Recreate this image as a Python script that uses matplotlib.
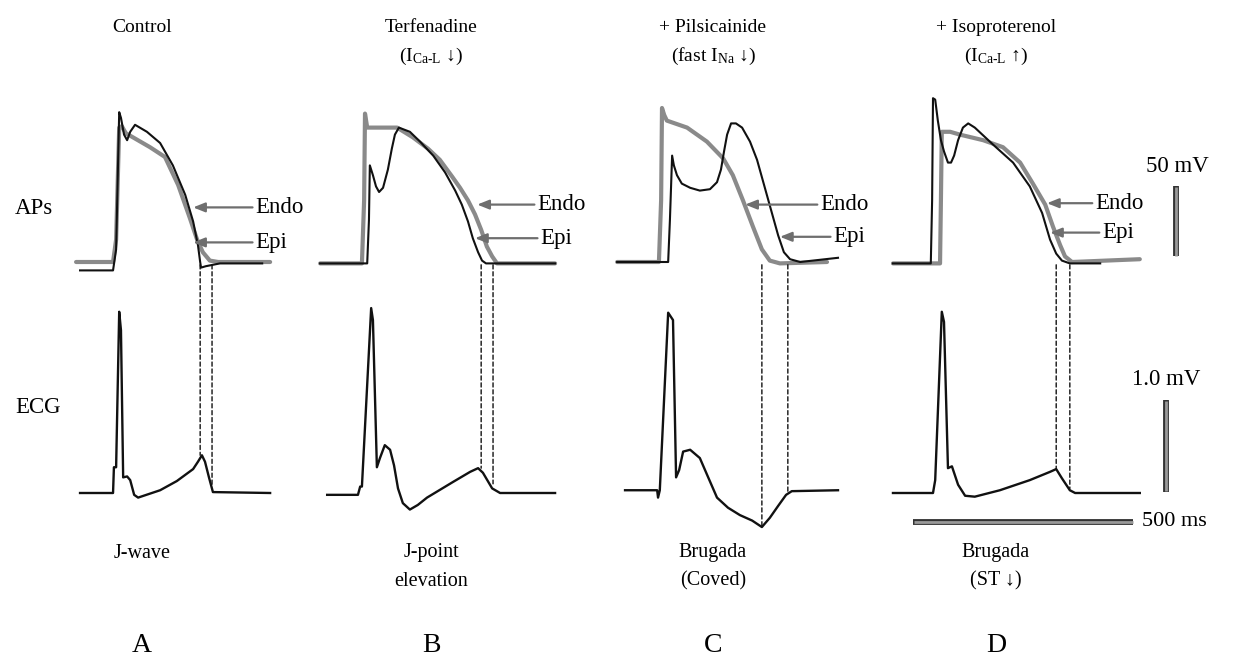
import numpy as np
import matplotlib
matplotlib.use("Agg")
import matplotlib.pyplot as plt
from matplotlib.patches import ConnectionPatch

# ---------------- DATA (time in ms from upstroke, AP in mV, ECG in mV) ----------------
panel_letters = ["A", "B", "C", "D"]
titles = ["Control", "Terfenadine", "+ Pilsicainide", "+ Isoproterenol"]
subtitles = ["", r"(I$_{\mathrm{Ca}\text{-}\mathrm{L}}$ ↓)", r"(fast I$_{\mathrm{Na}}$ ↓)",
             r"(I$_{\mathrm{Ca}\text{-}\mathrm{L}}$ ↑)"]
bottom_line1 = ["J-wave", "J-point", "Brugada", "Brugada"]
bottom_line2 = ["", "elevation", "(Coved)", "(ST ↓)"]

A_endo_t = [-93, -9, -2, 5, 11, 20, 75, 109, 139, 166, 182, 195, 211, 230, 348]
A_endo_mv = [-85, -85, -69, 11, 12, 7, -3, -10, -30, -54, -69, -78, -84, -85, -85]
A_epi_t = [-84, -9, -2, 5, 9, 16, 23, 30, 41, 68, 98, 127, 155, 173, 184, 189, 191, 202, 234, 330]
A_epi_mv = [-91, -91, -76, 22, 18, 6, 2, 8, 13, 8, 0, -16, -37, -56, -73, -85, -89, -88, -86, -86]

B_endo_t = [-102, -7, -2, 0, 5, 34, 73, 109, 143, 170, 198, 216, 234, 250, 264, 277, 289, 300, 432]
B_endo_mv = [-86, -86, -41, 21, 11, 11, 11, 4, -4, -12, -24, -32, -41, -51, -62, -74, -81, -86, -86]
B_epi_t = [-102, 5, 9, 11, 18, 25, 32, 41, 52, 61, 68, 77, 102, 125, 155, 182, 205, 220, 234, 245,
           257, 266, 275, 432]
B_epi_mv = [-86, -86, -55, -16, -23, -31, -35, -32, -19, -4, 6, 11, 8, 1, -9, -21, -34, -44, -56, -68,
            -78, -84, -86, -86]

C_endo_t = [-102, -7, -2, 0, 5, 11, 57, 102, 139, 161, 184, 207, 227, 245, 268, 375]
C_endo_mv = [-85, -85, -41, 25, 20, 16, 11, 1, -11, -23, -41, -60, -76, -84, -86, -85]
C_epi_t = [-102, 14, 18, 23, 27, 34, 45, 64, 86, 109, 125, 134, 141, 148, 157, 168, 182, 200, 216,
           232, 248, 264, 277, 291, 314, 400]
C_epi_mv = [-85, -85, -55, -9, -16, -23, -29, -32, -34, -33, -28, -19, -6, 6, 14, 14, 11, 1, -12,
            -30, -48, -66, -78, -83, -85, -82]

D_endo_t = [-91, 16, 18, 20, 39, 61, 114, 159, 198, 227, 255, 273, 289, 300, 316, 470]
D_endo_mv = [-86, -86, -41, 8, 8, 6, 2, -3, -14, -29, -44, -60, -73, -81, -85, -83]
D_epi_t = [-91, -5, -2, 0, 5, 11, 18, 25, 34, 41, 48, 57, 68, 80, 95, 136, 182, 220, 248, 266, 280,
           293, 311, 380]
D_epi_mv = [-86, -86, -41, 32, 31, 16, 2, -6, -14, -14, -9, 2, 11, 14, 11, -1, -14, -31, -50, -69,
            -79, -84, -86, -86]

A_ecg_t = [-84, -9, -7, -2, 5, 9, 14, 23, 30, 39, 48, 98, 136, 173, 184, 193, 200, 209, 218, 348]
A_ecg_mv = [0, 0, 0.28, 0.28, 1.97, 1.77, 0.17, 0.18, 0.14, -0.02, -0.05, 0.03, 0.13, 0.26, 0.34,
            0.41, 0.34, 0.17, 0.01, 0]
B_ecg_t = [-86, -16, -11, -7, 14, 18, 27, 34, 45, 57, 66, 75, 86, 102, 120, 141, 200, 239, 257, 268,
           289, 307, 432]
B_ecg_mv = [-0.02, -0.02, 0.07, 0.07, 2.01, 1.88, 0.28, 0.38, 0.52, 0.47, 0.30, 0.05, -0.11, -0.18,
            -0.13, -0.05, 0.12, 0.23, 0.27, 0.22, 0.05, 0, 0]
C_ecg_t = [-84, -11, -9, -5, 14, 25, 32, 39, 48, 64, 86, 105, 125, 150, 177, 205, 227, 245, 264, 282,
           295, 400]
C_ecg_mv = [0.03, 0.03, -0.05, 0.03, 1.96, 1.88, 0.17, 0.25, 0.45, 0.47, 0.38, 0.17, -0.05, -0.16,
            -0.24, -0.30, -0.37, -0.27, -0.14, -0.02, 0.02, 0.03]
D_ecg_t = [-91, 0, 5, 20, 25, 34, 43, 57, 73, 95, 152, 220, 266, 280, 293, 311, 323, 470]
D_ecg_mv = [0, 0, 0.14, 1.97, 1.86, 0.27, 0.29, 0.09, -0.03, -0.04, 0.03, 0.14, 0.23, 0.26, 0.16,
            0.03, 0, 0]

# repolarisation markers (ms) and where they meet the ECG (mV)
dash_t = [[189, 216], [264, 291], [227, 286], [280, 311]]
dash_ecg = [[0.41, 0.08], [0.27, 0.10], [-0.37, 0.0], [0.26, 0.05]]

# arrow tips (ms, mV) for Endo / Epi labels, and label start time (ms)
endo_tip = [(173, -46), (255, -44), (189, -44), (259, -43)]
endo_lab_t = [314, 391, 359, 368]
epi_tip = [(173, -71), (250, -68), (268, -67), (266, -64)]
epi_lab_t = [314, 398, 389, 384]

# scale bars
ap_bar_mv = 50
ecg_bar_mv = 1.0
time_bar_ms = 500

# ---------------- LAYOUT ----------------
W, H = 1245, 672
PX_MS = 0.44
PX_AP = 1.4
PX_ECG = 92.0
up_x = [117, 365, 662, 933]
AP_BASE_Y, AP_BASE_V = 262, -85
ECG_BASE_Y = 493
TLIM = (-110, 620)
AP_VLIM = (-100, 40)
ECG_VLIM = (-0.5, 2.2)

plt.rcParams["font.family"] = ["Liberation Serif", "DejaVu Serif"]
plt.rcParams["mathtext.fontset"] = "custom"
plt.rcParams["mathtext.rm"] = "Liberation Serif"
plt.rcParams["mathtext.it"] = "Liberation Serif:italic"
plt.rcParams["mathtext.bf"] = "Liberation Serif:bold"

fig = plt.figure(figsize=(W / 100, H / 100), dpi=100)
fig.patch.set_facecolor("white")


def make_axes(x0, ybase, vbase, px, vlim):
    left = x0 + TLIM[0] * PX_MS
    right = x0 + TLIM[1] * PX_MS
    top = ybase - (vlim[1] - vbase) * px
    bottom = ybase + (vbase - vlim[0]) * px
    ax = fig.add_axes([left / W, 1 - bottom / H, (right - left) / W, (bottom - top) / H])
    ax.set_xlim(*TLIM)
    ax.set_ylim(*vlim)
    ax.axis("off")
    return ax


ENDO_C = "#8a8a8a"
EPI_C = "#111111"
ARROW_C = "#6e6e6e"

endo_data = [(A_endo_t, A_endo_mv), (B_endo_t, B_endo_mv), (C_endo_t, C_endo_mv), (D_endo_t, D_endo_mv)]
epi_data = [(A_epi_t, A_epi_mv), (B_epi_t, B_epi_mv), (C_epi_t, C_epi_mv), (D_epi_t, D_epi_mv)]
ecg_data = [(A_ecg_t, A_ecg_mv), (B_ecg_t, B_ecg_mv), (C_ecg_t, C_ecg_mv), (D_ecg_t, D_ecg_mv)]

panel_cx = [142, 431, 713, 996]

for i in range(4):
    ax_ap = make_axes(up_x[i], AP_BASE_Y, AP_BASE_V, PX_AP, AP_VLIM)
    ax_ecg = make_axes(up_x[i], ECG_BASE_Y, 0.0, PX_ECG, ECG_VLIM)

    et, ev = endo_data[i]
    pt, pv = epi_data[i]
    ax_ap.plot(et, ev, color=ENDO_C, lw=3.0, solid_joinstyle="round", solid_capstyle="round", zorder=2)
    ax_ap.plot(pt, pv, color=EPI_C, lw=1.5, solid_joinstyle="round", zorder=3)

    ct, cv = ecg_data[i]
    ax_ecg.plot(ct, cv, color="#111111", lw=1.7, solid_joinstyle="round", zorder=3)

    # dashed repolarisation markers spanning AP to ECG
    for t, e in zip(dash_t[i], dash_ecg[i]):
        con = ConnectionPatch(xyA=(t, -87), coordsA=ax_ap.transData,
                              xyB=(t, e), coordsB=ax_ecg.transData,
                              color="#111111", lw=1.0, linestyle=(0, (3, 2)))
        fig.add_artist(con)

    # arrows with labels
    for tip, lab_t, name in [(endo_tip[i], endo_lab_t[i], "Endo"), (epi_tip[i], epi_lab_t[i], "Epi")]:
        ax_ap.annotate("", xy=tip, xytext=(lab_t - 6, tip[1]),
                       arrowprops=dict(arrowstyle="-|>,head_length=0.7,head_width=0.28",
                                       color=ARROW_C, lw=1.6, shrinkA=0, shrinkB=0))
        ax_ap.text(lab_t, tip[1], name, fontsize=16.5, va="center", ha="left")

    # titles
    fig.text(panel_cx[i] / W, 1 - 27 / H, titles[i], fontsize=14, ha="center", va="center")
    if subtitles[i]:
        fig.text(panel_cx[i] / W, 1 - 56 / H, subtitles[i], fontsize=14, ha="center", va="center")
    fig.text(panel_cx[i] / W, 1 - 553 / H, bottom_line1[i], fontsize=14.5, ha="center", va="center")
    if bottom_line2[i]:
        fig.text(panel_cx[i] / W, 1 - 581 / H, bottom_line2[i], fontsize=14.5, ha="center", va="center")
    fig.text(panel_cx[i] / W, 1 - 646 / H, panel_letters[i], fontsize=20, ha="center", va="center")

    if i == 3:
        # scale bars in the last panel
        bx = 552
        ax_ap.plot([bx, bx], [-81, -81 + ap_bar_mv], color="#333333", lw=4.2, solid_capstyle="butt")
        ax_ap.plot([bx, bx], [-80.5, -81.5 + ap_bar_mv], color="#9a9a9a", lw=2.0, solid_capstyle="butt")
        ax_ap.text(bx + 3, -17, f"{ap_bar_mv} mV", fontsize=16.5, ha="center", va="center")

        cx = 530
        ax_ecg.plot([cx, cx], [0.01, 0.01 + ecg_bar_mv], color="#333333", lw=4.2, solid_capstyle="butt")
        ax_ecg.plot([cx, cx], [0.02, 0.0 + ecg_bar_mv], color="#9a9a9a", lw=2.0, solid_capstyle="butt")
        ax_ecg.text(cx, 1.23, f"{ecg_bar_mv:.1f} mV", fontsize=16.5, ha="center", va="center")

        ty = -0.315
        ax_ecg.plot([-45, -45 + time_bar_ms], [ty, ty], color="#333333", lw=4.2, solid_capstyle="butt")
        ax_ecg.plot([-44, -46 + time_bar_ms], [ty, ty], color="#9a9a9a", lw=2.0, solid_capstyle="butt")
        ax_ecg.text(-45 + time_bar_ms + 20, ty, f"{time_bar_ms} ms", fontsize=16, ha="left", va="center")

fig.text(15 / W, 1 - 208 / H, "APs", fontsize=16.5, ha="left", va="center")
fig.text(15 / W, 1 - 408 / H, "ECG", fontsize=16.5, ha="left", va="center")

fig.savefig("out.png", dpi=100, facecolor="white")
